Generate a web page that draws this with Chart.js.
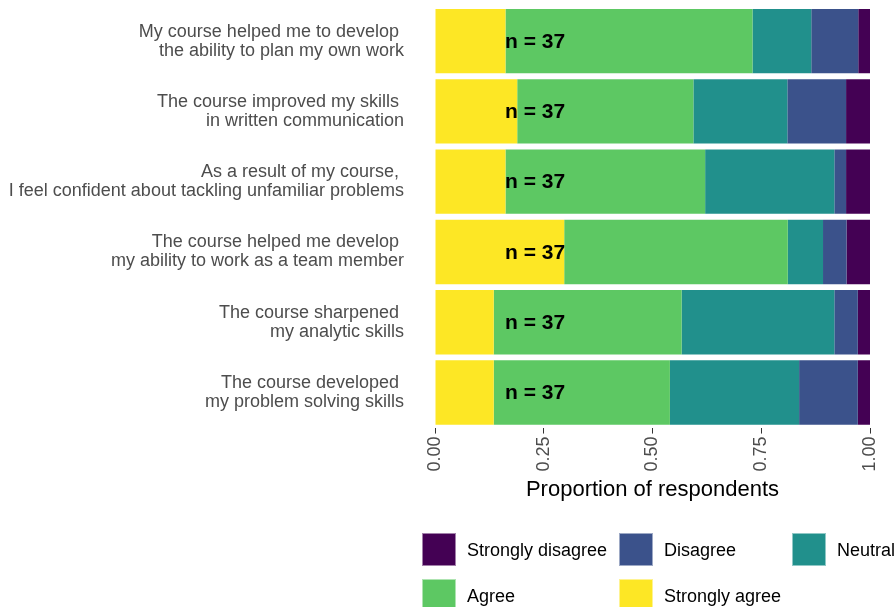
<!DOCTYPE html>
<html>
<head>
<meta charset="utf-8">
<script src="https://cdn.jsdelivr.net/npm/chart.js@4"></script>
<style>
  html, body { margin: 0; padding: 0; background: #fff; }
  #wrap { width: 896px; height: 607px; }
</style>
</head>
<body>
<div id="wrap"><canvas id="chart" width="896" height="607"></canvas></div>
<script>
// Survey items (two-line labels, trailing space like the original wrapping)
const items = [
  ['My course helped me to develop ', 'the ability to plan my own work'],
  ['The course improved my skills ', 'in written communication'],
  ['As a result of my course, ', 'I feel confident about tackling unfamiliar problems'],
  ['The course helped me develop ', 'my ability to work as a team member'],
  ['The course sharpened ', 'my analytic skills'],
  ['The course developed ', 'my problem solving skills']
];

// Proportion of respondents per response level (n = 37 per item)
const stronglyAgree    = [0.162, 0.189, 0.162, 0.297, 0.135, 0.135];
const agree            = [0.568, 0.405, 0.459, 0.514, 0.432, 0.405];
const neutral          = [0.135, 0.216, 0.297, 0.081, 0.351, 0.297];
const disagree         = [0.108, 0.135, 0.027, 0.054, 0.054, 0.135];
const stronglyDisagree = [0.027, 0.055, 0.055, 0.054, 0.028, 0.028];

const respondents = [37, 37, 37, 37, 37, 37];
const xTicks = [0, 0.25, 0.5, 0.75, 1];
const nLabelX = 0.23;

const FONT = '"Liberation Sans", Arial, Helvetica, sans-serif';

// Draw "n = 37" on every bar
const nLabels = {
  id: 'nLabels',
  afterDatasetsDraw(chart) {
    const ctx = chart.ctx;
    const x = chart.scales.x.getPixelForValue(nLabelX);
    ctx.save();
    ctx.font = 'bold 21px ' + FONT;
    ctx.fillStyle = '#000';
    ctx.textAlign = 'center';
    ctx.textBaseline = 'middle';
    respondents.forEach((n, i) => {
      const y = chart.scales.y.getPixelForValue(i);
      ctx.fillText('n = ' + n, x, y + 1);
    });
    ctx.restore();
  }
};

// ggplot-like legend below the plot, 3 columns
const bottomLegend = {
  id: 'bottomLegend',
  afterDraw(chart) {
    const ctx = chart.ctx;
    const sets = chart.data.datasets.slice().reverse();
    const cols = [422, 619, 792];
    const rows = [533, 579];
    ctx.save();
    ctx.font = '18px ' + FONT;
    ctx.textBaseline = 'middle';
    ctx.textAlign = 'left';
    sets.forEach((ds, i) => {
      const bx = cols[i % 3];
      const by = rows[Math.floor(i / 3)];
      ctx.fillStyle = ds.backgroundColor;
      ctx.fillRect(bx, by, 34, 33);
      ctx.strokeStyle = 'rgba(255,255,255,0.5)';
      ctx.lineWidth = 1;
      ctx.strokeRect(bx + 0.5, by + 0.5, 33, 32);
      ctx.fillStyle = '#000';
      ctx.fillText(ds.label, bx + 45, by + 18);
    });
    ctx.restore();
  }
};

new Chart(document.getElementById('chart'), {
  type: 'bar',
  data: {
    labels: items,
    datasets: [
      { label: 'Strongly agree', data: stronglyAgree, backgroundColor: '#FDE725' },
      { label: 'Agree', data: agree, backgroundColor: '#5DC863' },
      { label: 'Neutral', data: neutral, backgroundColor: '#21908C' },
      { label: 'Disagree', data: disagree, backgroundColor: '#3B528B' },
      { label: 'Strongly disagree', data: stronglyDisagree, backgroundColor: '#440154' }
    ]
  },
  options: {
    indexAxis: 'y',
    responsive: false,
    animation: false,
    barPercentage: 0.917,
    categoryPercentage: 1,
    layout: { padding: { top: 6, right: 26, bottom: 104, left: 0 } },
    scales: {
      x: {
        stacked: true,
        min: 0,
        max: 1,
        afterBuildTicks: (scale) => { scale.ticks = xTicks.map(v => ({ value: v })); },
        grid: { drawOnChartArea: false, drawTicks: true, tickLength: 6, color: '#333' },
        border: { display: false },
        ticks: {
          minRotation: 90,
          maxRotation: 90,
          padding: 3,
          color: '#4d4d4d',
          font: { family: FONT, size: 18 },
          callback: (v) => Number(v).toFixed(2)
        },
        title: {
          display: true,
          text: 'Proportion of respondents',
          color: '#000',
          font: { family: FONT, size: 22 },
          padding: { top: 2, bottom: 0 }
        }
      },
      y: {
        stacked: true,
        grid: { display: false, drawTicks: false },
        border: { display: false },
        afterFit: (scale) => {
          scale.width = 435;
          // labels sit beside bars, no extra vertical room needed
          scale.paddingTop = 0;
          scale.paddingBottom = 0;
        },
        ticks: {
          padding: 31,
          color: '#4d4d4d',
          font: { family: FONT, size: 18, lineHeight: 1.05 }
        }
      }
    },
    plugins: {
      legend: { display: false },
      tooltip: { enabled: false }
    }
  },
  plugins: [nLabels, bottomLegend]
});
</script>
</body>
</html>
